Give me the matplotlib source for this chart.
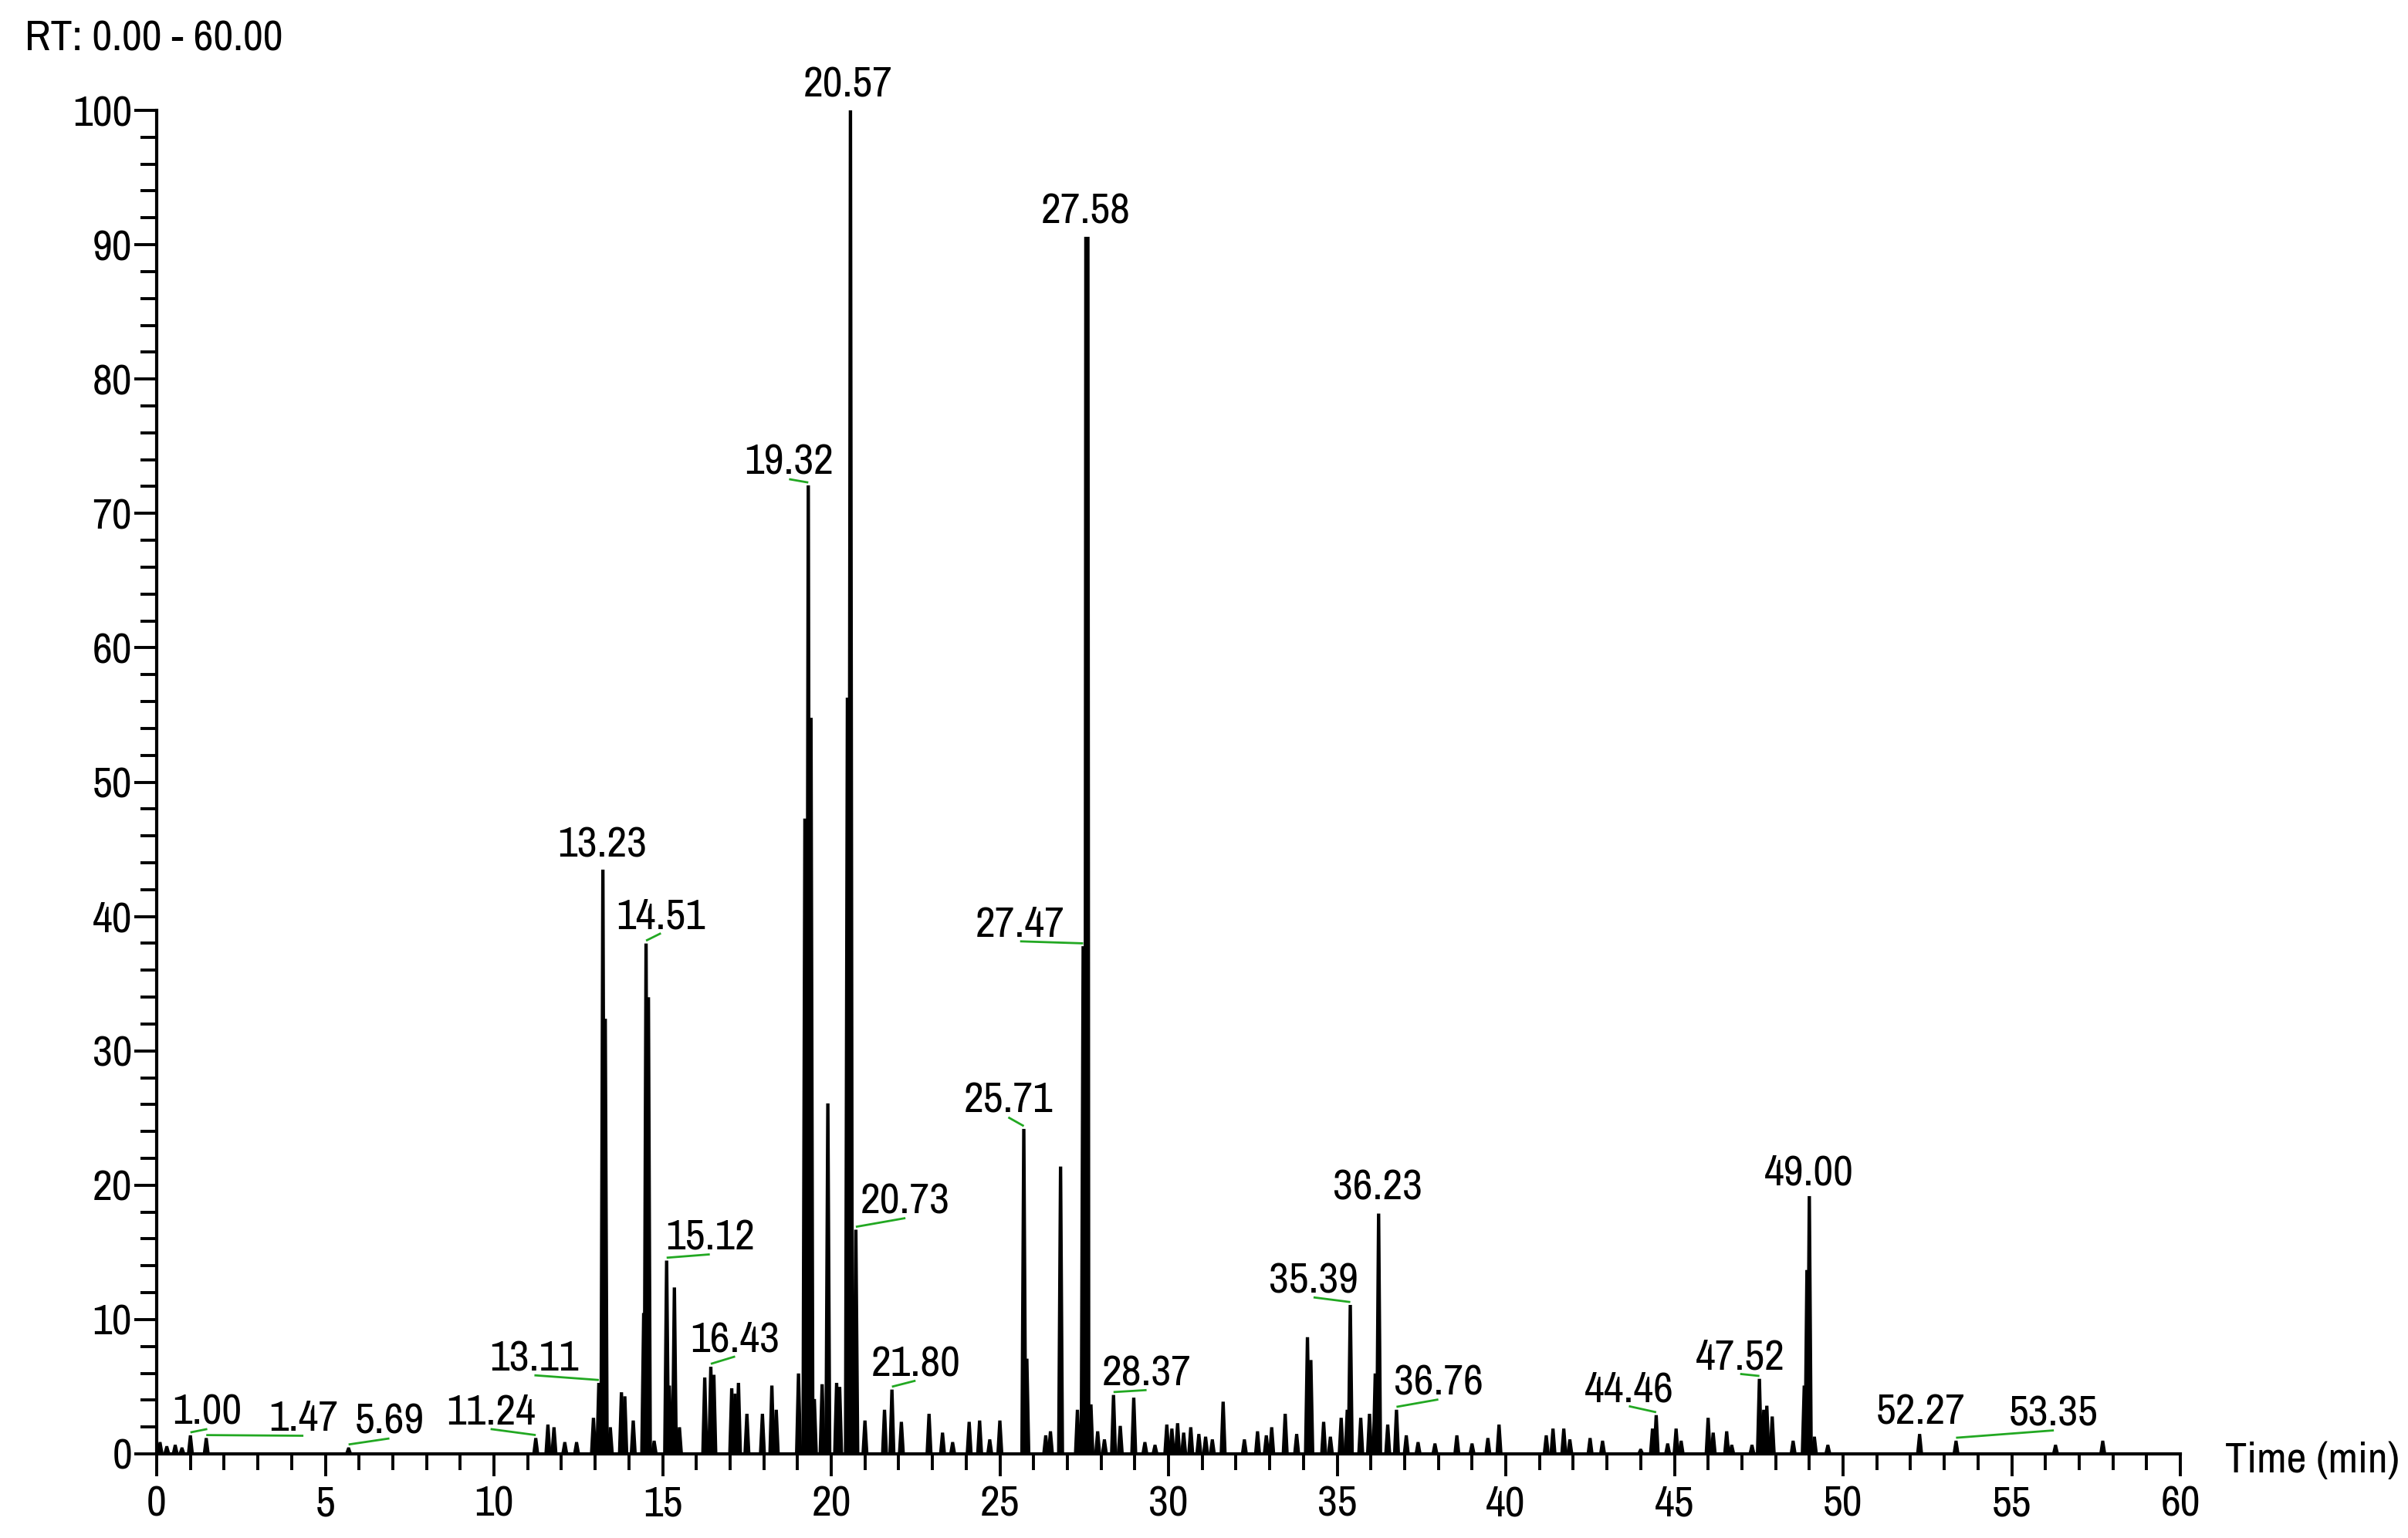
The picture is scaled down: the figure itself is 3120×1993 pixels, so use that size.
import matplotlib
matplotlib.use("Agg")
import matplotlib.pyplot as plt
from matplotlib.ticker import MultipleLocator
from matplotlib import font_manager as fm
from matplotlib.textpath import TextPath

# ---------------- data ----------------
peak_rt = [0.10, 0.30, 0.55, 0.75, 1.00, 1.47, 5.69, 11.24, 11.60, 11.78, 12.10, 12.45,
           12.95, 13.11, 13.23, 13.30, 13.45, 13.78, 13.88, 14.13, 14.44, 14.51, 14.58,
           14.75, 15.12, 15.20, 15.35, 15.50, 16.25, 16.43, 16.52, 17.05, 17.15, 17.25,
           17.50, 17.96, 18.24, 18.37, 19.03, 19.22, 19.32, 19.40, 19.50, 19.73, 19.90,
           20.16, 20.25, 20.48, 20.57, 20.73, 21.00, 21.58, 21.80, 22.08, 22.90, 23.30,
           23.60, 24.09, 24.40, 24.70, 25.00, 25.71, 25.80, 26.36, 26.50, 26.80, 27.30,
           27.47, 27.58, 27.70, 27.90, 28.10, 28.37, 28.57, 28.97, 29.30, 29.60, 29.95,
           30.10, 30.27, 30.45, 30.66, 30.90, 31.10, 31.30, 31.62, 32.25, 32.64, 32.90,
           33.06, 33.46, 33.80, 34.12, 34.22, 34.60, 34.80, 35.12, 35.30, 35.39, 35.70,
           35.96, 36.13, 36.23, 36.50, 36.76, 37.05, 37.40, 37.90, 38.55, 39.00, 39.47,
           39.80, 41.20, 41.40, 41.72, 41.90, 42.50, 42.87, 44.00, 44.35, 44.46, 44.80,
           45.05, 45.20, 46.00, 46.15, 46.55, 46.70, 47.30, 47.52, 47.65, 47.74, 47.90,
           48.52, 48.85, 48.93, 49.00, 49.15, 49.55, 52.27, 53.35, 56.30, 57.70]
peak_height = [0.8, 0.5, 0.6, 0.4, 1.3, 1.1, 0.4, 1.1, 2.1, 1.9, 0.8, 0.8,
               2.6, 5.2, 43.4, 32.3, 1.9, 4.5, 4.2, 2.4, 10.4, 37.9, 33.9,
               0.9, 14.3, 5.0, 12.3, 1.9, 5.6, 6.4, 5.8, 4.8, 4.4, 5.2,
               2.9, 2.9, 5.0, 3.2, 5.9, 47.2, 72.0, 54.7, 4.0, 5.1, 26.0,
               5.2, 4.9, 56.2, 100.0, 16.6, 2.4, 3.2, 4.7, 2.3, 2.9, 1.5,
               0.8, 2.3, 2.4, 1.0, 2.4, 24.1, 7.0, 1.3, 1.6, 21.3, 3.2,
               37.7, 90.5, 3.6, 1.6, 1.0, 4.3, 2.0, 4.1, 0.8, 0.6, 2.1,
               1.8, 2.2, 1.5, 1.9, 1.4, 1.2, 1.0, 3.8, 1.0, 1.6, 1.3,
               1.9, 2.9, 1.4, 8.6, 6.9, 2.3, 1.2, 2.6, 3.2, 11.0, 2.6,
               2.9, 5.9, 17.8, 2.1, 3.2, 1.3, 0.8, 0.7, 1.3, 0.7, 1.1,
               2.1, 1.3, 1.8, 1.8, 1.0, 1.1, 0.9, 0.3, 1.8, 2.8, 0.7,
               1.8, 0.9, 2.6, 1.5, 1.6, 0.6, 0.6, 5.5, 3.2, 3.5, 2.7,
               0.9, 5.0, 13.6, 19.1, 1.2, 0.6, 1.4, 0.9, 0.6, 0.9]

label_rt = [1.00, 1.47, 5.69, 11.24, 13.11, 13.23, 14.51, 15.12, 16.43, 19.32, 20.57,
            20.73, 21.80, 25.71, 27.47, 27.58, 28.37, 35.39, 36.23, 36.76, 44.46,
            47.52, 49.00, 52.27, 53.35]

x_ticks = [0, 5, 10, 15, 20, 25, 30, 35, 40, 45, 50, 55, 60]
y_ticks = [0, 10, 20, 30, 40, 50, 60, 70, 80, 90, 100]

# ---------------- layout (label placement: centre x, baseline y in data units) ----------------
label_pos = {
    1.00: (1.5, 2.2), 1.47: (4.35, 1.7), 5.69: (6.9, 1.5), 11.24: (9.9, 2.2),
    13.11: (11.2, 6.2), 13.23: (13.2, 44.4), 14.51: (14.95, 39.1), 15.12: (16.4, 15.2),
    16.43: (17.15, 7.6), 19.32: (18.75, 72.9), 20.57: (20.5, 101.0), 20.73: (22.2, 17.9),
    21.80: (22.5, 5.8), 25.71: (25.25, 25.4), 27.47: (25.6, 38.5), 27.58: (27.55, 91.6),
    28.37: (29.35, 5.1), 35.39: (34.3, 12.0), 36.23: (36.2, 18.9), 36.76: (38.0, 4.4),
    44.46: (43.65, 3.9), 47.52: (46.95, 6.3), 49.00: (49.0, 20.0), 52.27: (52.3, 2.2),
    53.35: (56.25, 2.1),
}
# drawing style: half-width of a peak's flat top (min); broader for the 27.58 peak
top_half = {27.58: 0.045}
default_top_half = 0.015
base_half = 0.07

# ---------------- font choice: a narrow sans like the reference ----------------
available = {f.name for f in fm.fontManager.ttflist}
candidates = ['Liberation Sans Narrow', 'Arial Narrow', 'Archivo Narrow', 'PT Sans Narrow',
              'Roboto Condensed', 'Fira Sans Condensed', 'IBM Plex Sans Condensed',
              'Sofia Sans Condensed', 'Encode Sans Condensed', 'Liberation Sans']
chosen = next((c for c in candidates if c in available), 'DejaVu Sans')
plt.rcParams['font.family'] = [chosen, 'DejaVu Sans']

W, H = 3120, 1993
DPI = 100
ext = TextPath((0, 0), "0", size=100, prop=fm.FontProperties(family=chosen)).get_extents()
digit_h = ext.height / 100.0
FS = 40.0 / digit_h * 72.0 / DPI

fig = plt.figure(figsize=(W / DPI, H / DPI), dpi=DPI)
ax = fig.add_axes([203 / W, 109 / H, (2825 - 203) / W, (1884 - 143) / H])

for t, h in zip(peak_rt, peak_height):
    th = top_half.get(t, default_top_half)
    bw = max(base_half, th + 0.02)
    ax.fill([t - bw, t - th, t + th, t + bw], [0, h, h, 0], facecolor='black',
            edgecolor='black', lw=2.2, joinstyle='miter', zorder=3)

heights = dict(zip(peak_rt, peak_height))
green = '#22a822'
for rt in label_rt:
    lx, ly = label_pos[rt]
    h = heights[rt]
    ax.text(lx, ly, f"{rt:.2f}", ha='center', va='baseline', fontsize=FS,
            color='black', clip_on=False, zorder=5)
    if abs(lx - rt) > 0.35:
        ax.plot([rt, lx], [h + 0.3, ly - 0.35], color=green, lw=2.0,
                solid_capstyle='butt', clip_on=False, zorder=4)

ax.set_xlim(0, 60)
ax.set_ylim(0, 100)
for s in ['top', 'right']:
    ax.spines[s].set_visible(False)
for s in ['left', 'bottom']:
    ax.spines[s].set_linewidth(3.0)
    ax.spines[s].set_zorder(6)

ax.set_xticks(x_ticks)
ax.set_yticks(y_ticks)
ax.xaxis.set_minor_locator(MultipleLocator(1))
ax.yaxis.set_minor_locator(MultipleLocator(2))
ax.tick_params(axis='both', which='major', direction='out', length=21, width=2.8,
               labelsize=FS, color='black')
ax.tick_params(axis='both', which='minor', direction='out', length=15, width=2.8,
               color='black')
ax.tick_params(axis='x', which='major', pad=8)
ax.tick_params(axis='y', which='major', pad=2)

fig.text(32 / W, 1 - 66 / H, "RT: 0.00 - 60.00", fontsize=FS, ha='left', va='baseline')
fig.text(2883 / W, 1 - 1908 / H, "Time (min)", fontsize=FS, ha='left', va='baseline')

fig.savefig("out.png", dpi=DPI, facecolor='white')
